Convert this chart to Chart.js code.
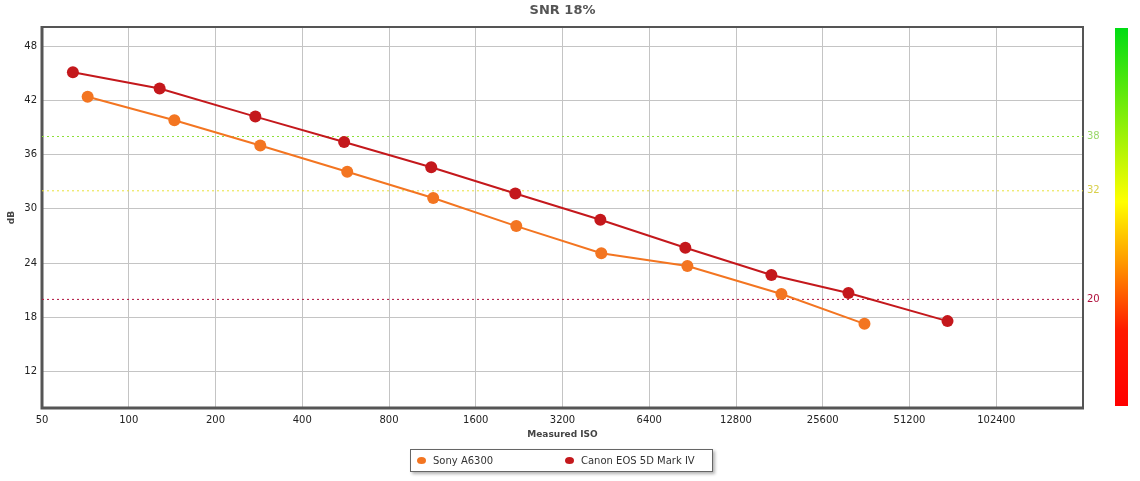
<!DOCTYPE html>
<html>
<head>
<meta charset="utf-8">
<script src="https://cdn.jsdelivr.net/npm/chart.js@4"></script>
<style>
  html, body { margin: 0; padding: 0; background: #fff; }
  #wrap { position: relative; width: 1140px; height: 481px; }
  #legend {
    position: absolute; left: 410px; top: 449px; width: 301px; height: 21px;
    border: 1px solid #666; box-shadow: 2px 2px 3px rgba(0,0,0,0.3);
    font: 10px "DejaVu Sans", Verdana, sans-serif; color: #333; background: #fff;
  }
  #legend .item { position: absolute; top: 5px; white-space: nowrap; }
  #legend .dot { display: inline-block; width: 9px; height: 7px; border-radius: 50%; margin-right: 7px; vertical-align: 0px; }
</style>
</head>
<body>
<div id="wrap">
  <canvas id="snr" width="1140" height="481"></canvas>
  <div id="legend"></div>
</div>
<script>
// chart values
const isoTicks = [50, 100, 200, 400, 800, 1600, 3200, 6400, 12800, 25600, 51200, 102400];
const dbTicks = [12, 18, 24, 30, 36, 42, 48];

const sonyIso = [72, 144, 286, 573, 1139, 2212, 4363, 8680, 18400, 35730];
const sonyDb = [42.4, 39.8, 37.0, 34.1, 31.2, 28.1, 25.1, 23.7, 20.6, 17.3];

const canonIso = [64, 128, 275, 559, 1121, 2195, 4330, 8540, 16985, 31430, 69370];
const canonDb = [45.1, 43.3, 40.2, 37.4, 34.6, 31.7, 28.8, 25.7, 22.7, 20.7, 17.6];

const thresholds = [38, 32, 20];
const thresholdColors = ['#8fe03a', '#e8e23a', '#b0103c'];
const thresholdLabelColors = ['#9ad86a', '#d8cf4a', '#b0103c'];

const seriesNames = ['Sony A6300', 'Canon EOS 5D Mark IV'];
const seriesColors = ['#f37521', '#c4181c'];

const FONT = '"DejaVu Sans", Verdana, sans-serif';

function toPoints(xs, ys) {
    return xs.map((x, i) => ({ x: x, y: ys[i] }));
}

const datasets = [
    {
        label: seriesNames[0],
        data: toPoints(sonyIso, sonyDb),
        borderColor: seriesColors[0],
        backgroundColor: seriesColors[0],
        borderWidth: 2,
        pointRadius: 6,
        pointBorderWidth: 0,
        tension: 0,
        order: 1
    },
    {
        label: seriesNames[1],
        data: toPoints(canonIso, canonDb),
        borderColor: seriesColors[1],
        backgroundColor: seriesColors[1],
        borderWidth: 2,
        pointRadius: 6,
        pointBorderWidth: 0,
        tension: 0,
        order: 0
    }
];

// dotted threshold lines across the whole x range
thresholds.forEach((t, i) => {
    datasets.push({
        label: 'limit ' + t,
        data: [{ x: isoTicks[0], y: t }, { x: 204800, y: t }],
        borderColor: thresholdColors[i],
        borderWidth: 1,
        borderDash: [2, 3],
        pointRadius: 0,
        order: 5
    });
});

const titlePlugin = {
    id: 'titlePlugin',
    afterDraw(chart) {
        const { ctx, chartArea } = chart;
        ctx.save();
        ctx.font = 'bold 13px ' + FONT;
        ctx.fillStyle = '#555';
        ctx.textAlign = 'center';
        ctx.textBaseline = 'middle';
        ctx.fillText('SNR 18%', (chartArea.left + chartArea.right) / 2, 11);
        ctx.restore();
    }
};

const framePlugin = {
    id: 'framePlugin',
    beforeDatasetsDraw(chart) {
        const { ctx, chartArea: a } = chart;
        ctx.save();
        ctx.strokeStyle = '#555';
        ctx.lineWidth = 2;
        ctx.beginPath();
        ctx.moveTo(a.left, a.top);
        ctx.lineTo(a.right, a.top);
        ctx.lineTo(a.right, a.bottom);
        ctx.stroke();
        ctx.lineWidth = 3;
        ctx.beginPath();
        ctx.moveTo(a.left, a.top - 1);
        ctx.lineTo(a.left, a.bottom);
        ctx.lineTo(a.right + 1, a.bottom);
        ctx.stroke();
        ctx.restore();
    }
};

const sidePlugin = {
    id: 'sidePlugin',
    afterDraw(chart) {
        const { ctx, chartArea: a } = chart;
        const y = chart.scales.y;
        ctx.save();
        ctx.font = '10px ' + FONT;
        ctx.textBaseline = 'middle';
        thresholds.forEach((t, i) => {
            ctx.fillStyle = thresholdLabelColors[i];
            ctx.fillText(String(t), a.right + 4, y.getPixelForValue(t));
        });
        // colour bar
        const top = a.top + 1, bottom = a.bottom - 2;
        const grad = ctx.createLinearGradient(0, top, 0, bottom);
        grad.addColorStop(0, '#00dc14');
        grad.addColorStop(0.46, '#ffff00');
        grad.addColorStop(0.62, '#ff9900');
        grad.addColorStop(0.8, '#ff1a00');
        grad.addColorStop(1, '#ff0000');
        ctx.fillStyle = grad;
        ctx.fillRect(1115, top, 13, bottom - top);
        ctx.restore();
    }
};

const chart = new Chart(document.getElementById('snr'), {
    type: 'line',
    data: { datasets: datasets },
    options: {
        responsive: false,
        animation: false,
        layout: { padding: { left: 0, right: 57, top: 27, bottom: 41 } },
        plugins: {
            legend: { display: false },
            title: { display: false },
            tooltip: { enabled: false }
        },
        scales: {
            x: {
                type: 'logarithmic',
                min: 50,
                max: 204800,
                border: { display: false },
                grid: { color: '#c4c4c4', drawTicks: false },
                ticks: {
                    padding: 6,
                    maxRotation: 0,
                    autoSkip: false,
                    color: '#222',
                    font: { family: FONT, size: 10 },
                    callback: (v) => String(v)
                },
                title: {
                    display: true,
                    text: 'Measured ISO',
                    color: '#444',
                    font: { family: FONT, size: 9, weight: 'bold' },
                    padding: { top: 3, bottom: 0 }
                },
                afterBuildTicks: (s) => { s.ticks = isoTicks.map(v => ({ value: v })); },
                afterFit: (s) => { s.height = 32; s.paddingLeft = 0; s.paddingRight = 0; }
            },
            y: {
                min: 8,
                max: 50.1,
                border: { display: false },
                grid: { color: '#c4c4c4', drawTicks: false },
                ticks: {
                    padding: 5,
                    color: '#222',
                    font: { family: FONT, size: 10 },
                    callback: (v) => String(v)
                },
                title: {
                    display: true,
                    text: 'dB',
                    color: '#444',
                    font: { family: FONT, size: 9, weight: 'bold' },
                    padding: { top: 6, bottom: 0 }
                },
                afterBuildTicks: (s) => { s.ticks = dbTicks.map(v => ({ value: v })); },
                afterFit: (s) => { s.width = 42; s.paddingTop = 0; s.paddingBottom = 0; }
            }
        }
    },
    plugins: [titlePlugin, framePlugin, sidePlugin]
});

// html legend for the two cameras
const legendEl = document.getElementById('legend');
const legendX = [6, 154];
seriesNames.forEach((name, i) => {
    const item = document.createElement('span');
    item.className = 'item';
    item.style.left = legendX[i] + 'px';
    const dot = document.createElement('span');
    dot.className = 'dot';
    dot.style.background = seriesColors[i];
    item.appendChild(dot);
    item.appendChild(document.createTextNode(name));
    legendEl.appendChild(item);
});
</script>
</body>
</html>
